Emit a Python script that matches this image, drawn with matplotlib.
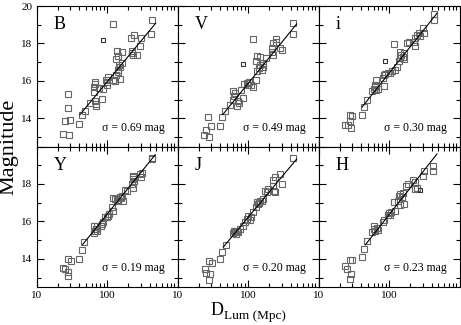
import matplotlib
matplotlib.use('Agg')
import matplotlib.pyplot as plt
from matplotlib.ticker import FixedLocator, MultipleLocator, LogLocator, NullFormatter

plt.rcParams['font.family'] = ['Liberation Serif', 'DejaVu Serif']

bands = ['B', 'V', 'i', 'Y', 'J', 'H']
sigmas = ['0.69', '0.49', '0.30', '0.19', '0.20', '0.23']

# Luminosity distance (Mpc) and magnitude for each band
B_D = [23.8, 28.7, 25.2, 29.7, 27.5, 27.8, 40.1, 43.5, 48.5, 57.0, 67.1, 69.3, 69.3, 65.0, 66, 67.1, 68,
       77.3, 83.6, 88.1, 96.2, 99.3, 103.7, 100, 119.6, 129, 133, 143.7, 148.6, 152, 160.6, 150, 140,
       133, 136, 140, 160.6, 119.6, 222, 229.7, 225, 217.6, 240, 267, 299, 292, 428, 418]
B_m = [13.19, 13.10, 13.85, 13.90, 14.54, 15.28, 13.69, 14.19, 14.41, 14.82, 14.91, 14.79, 14.64, 15.39, 15.67, 15.94, 15.85,
       15.62, 15.04, 15.57, 16.03, 15.80, 16.21, 15.95, 16.06, 15.97, 16.33, 16.60, 16.86, 16.77, 16.95, 16.12, 16.50,
       17.16, 17.62, 17.34, 17.57, 19.04, 17.48, 17.39, 17.62, 18.28, 18.46, 17.39, 18.28, 17.84, 19.26, 18.49]

V_D = [27.2, 29.4, 24.9, 23.9, 28.1, 40.2, 42.9, 47.3, 55.2, 60.2, 63, 65, 61, 68.6, 72.4, 74,
       78.2, 83.5, 88.2, 95.1, 103.6, 98, 109.6, 118.6, 128.9, 134.8, 142.4, 147, 155.6, 164.1, 160,
       128.9, 134.8, 147, 178.8, 118.6, 215.4, 220, 227, 227, 245, 282.5, 305, 250, 428, 428]
V_m = [14.06, 13.62, 13.37, 13.09, 13.02, 13.62, 14.08, 14.41, 14.73, 15.00, 15.18, 15.36, 15.44, 14.64, 14.91, 14.82,
       15.53, 15.09, 15.85, 15.89, 15.92, 15.80, 15.80, 15.67, 16.06, 16.51, 16.69, 16.86, 16.60, 16.77, 16.95,
       17.04, 17.34, 17.27, 17.22, 18.23, 17.52, 17.75, 18.01, 17.39, 18.23, 17.75, 17.66, 18.10, 19.11, 18.49]

i_D = [23.9, 25.8, 27.5, 29.7, 28.8, 27.5, 41.3, 43.5, 48.5, 57.2, 60.4, 63.8, 65.8, 68.8, 63.8, 65.8,
       81.9, 83.6, 88.2, 95.1, 101.6, 110, 122.6, 83.6, 129.3, 136.3, 144.3, 149, 157.4, 160.8, 141, 164.6,
       118.5, 179.5, 189.5, 222.6, 230, 235.5, 248.7, 262.7, 271.5, 302.5, 308.7, 428, 428]
i_m = [13.67, 13.67, 14.20, 14.11, 13.49, 13.85, 14.20, 14.61, 15.00, 15.44, 15.57, 15.67, 15.53, 15.57, 15.80, 16.06,
       16.15, 16.33, 16.38, 16.45, 16.42, 16.51, 16.60, 15.74, 16.77, 17.04, 17.22, 17.39, 17.30, 17.48, 17.57, 17.16,
       17.96, 18.01, 18.10, 18.10, 17.84, 18.28, 18.46, 18.58, 18.40, 18.81, 18.55, 19.57, 19.26]

Y_D = [23.8, 25.2, 27.5, 28.1, 28.1, 30.3, 40.1, 43.5, 46.9, 65, 67.1, 69.3, 70.9, 65.7, 72.5,
       80.9, 83.6, 86.6, 93.1, 99.3, 103.7, 107.1, 119.6, 115.7, 119.6, 129, 139.3, 143.7, 152, 155, 160.6, 166.2,
       178.6, 189.1, 222, 229.7, 234, 240, 229.7, 234, 292, 299, 307, 428, 438]
Y_m = [13.50, 13.45, 13.32, 13.09, 14.01, 13.88, 14.01, 14.49, 14.89, 15.37, 15.51, 15.60, 15.48, 15.78, 15.73,
       15.78, 15.87, 15.96, 16.22, 16.26, 16.31, 16.40, 16.58, 16.76, 17.25, 17.20, 17.16, 17.11, 17.29, 17.25, 17.38, 17.11,
       17.68, 17.64, 18.00, 18.27, 18.35, 18.18, 17.77, 18.44, 18.53, 18.35, 18.56, 19.38, 19.33]

J_D = [27.8, 30.3, 24.4, 25.2, 28.7, 27.8, 40.2, 42.9, 48.4, 61.5, 65, 67.3, 70.1, 63, 72.4, 76.4,
       83.5, 90, 95.1, 100.2, 106.2, 108.4, 118.6, 128.9, 134.8, 139.1, 147, 155.6, 164.1, 143.9,
       173, 182.6, 192.5, 222.3, 227, 240, 232.4, 240, 298, 282.5, 428]
J_m = [13.87, 13.78, 13.45, 13.27, 13.18, 12.86, 13.97, 14.36, 14.75, 15.37, 15.43, 15.34, 15.51, 15.51, 15.43, 15.60,
       15.78, 15.96, 16.14, 16.31, 16.05, 16.22, 16.49, 16.76, 17.02, 16.95, 17.11, 17.07, 17.20, 16.98,
       17.64, 17.55, 17.73, 17.91, 18.21, 18.39, 17.64, 17.55, 18.00, 18.53, 19.38]

H_D = [23.9, 25.3, 27.5, 29.7, 28.8, 27.5, 41.3, 43.5, 48.5, 57.2, 60.4, 63.8, 67.3, 68.8, 61.6,
       81.9, 85.7, 95.1, 98.4, 101.6, 106.3, 122.6, 118.5, 132.3, 136.3, 144.3, 152.2, 157.4, 160.8, 144.3,
       175.4, 183.5, 218, 235.5, 235.5, 248.7, 302.5, 316, 419, 419]
H_m = [13.60, 13.45, 13.95, 13.92, 13.21, 12.95, 14.10, 14.51, 14.98, 15.43, 15.60, 15.51, 15.66, 15.55, 15.73,
       15.96, 16.05, 16.35, 16.44, 16.37, 16.49, 16.58, 17.02, 17.11, 17.38, 17.47, 17.29, 17.50, 16.95, 16.88,
       17.91, 18.00, 18.21, 18.09, 17.73, 17.79, 18.44, 18.67, 18.97, 18.67]

# small dark points
small_D = {'B': [88.1], 'V': [85.0], 'i': [86.4], 'Y': [], 'J': [], 'H': [271.5]}
small_m = {'B': [18.17], 'V': [16.93], 'i': [17.07], 'Y': [], 'J': [], 'H': [17.68]}

# Fit line end points (D, mag)
line_D = {'B': [41, 487], 'V': [43.5, 487], 'i': [41.3, 476], 'Y': [44.9, 480], 'J': [44.3, 487], 'H': [45.9, 476]}
line_m = {'B': [14.2, 19.08], 'V': [14.2, 19.04], 'i': [14.61, 19.61], 'Y': [14.77, 19.56], 'J': [14.63, 19.33], 'H': [14.75, 19.6]}

data = {'B': (B_D, B_m), 'V': (V_D, V_m), 'i': (i_D, i_m), 'Y': (Y_D, Y_m), 'J': (J_D, J_m), 'H': (H_D, H_m)}

W, Hh = 461, 325
fig = plt.figure(figsize=(W / 100, Hh / 100), dpi=100)
gs = fig.add_gridspec(2, 3, left=36.7 / W, right=459.7 / W, top=1 - 6 / Hh, bottom=1 - 287 / Hh,
                      wspace=0, hspace=0)

for k, band in enumerate(bands):
    r, c = divmod(k, 3)
    ax = fig.add_subplot(gs[r, c])
    D, m = data[band]
    ax.plot(D, m, linestyle='none', marker='s', markersize=4.3, markerfacecolor='none',
            markeredgecolor='#666666', markeredgewidth=0.8)
    if small_D[band]:
        ax.plot(small_D[band], small_m[band], linestyle='none', marker='s', markersize=2.5,
                markerfacecolor='none', markeredgecolor='#333333', markeredgewidth=0.8)
    ax.plot(line_D[band], line_m[band], color='black', linewidth=0.8)
    ax.set_xscale('log')
    ax.set_xlim(10, 1000)
    ax.set_ylim(12.5, 20)
    ax.xaxis.set_major_locator(FixedLocator([10, 100, 1000]))
    ax.xaxis.set_minor_locator(LogLocator(base=10, subs=range(2, 10)))
    ax.xaxis.set_minor_formatter(NullFormatter())
    ax.yaxis.set_major_locator(FixedLocator([14, 16, 18, 20]))
    ax.yaxis.set_minor_locator(MultipleLocator(1))
    if r == 1:
        ax.set_xticklabels(['10', '100', ''])
    else:
        ax.tick_params(labelbottom=False)
    if c == 0:
        ax.set_yticklabels(['14', '16', '18', '20' if r == 0 else ''])
    else:
        ax.tick_params(labelleft=False)
    ax.tick_params(which='both', direction='in', top=True, right=True, width=0.8, labelsize=8, pad=3)
    ax.tick_params(which='major', length=5)
    ax.tick_params(which='minor', length=2.8)
    for s in ax.spines.values():
        s.set_linewidth(0.8)
    ax.text(0.12, 0.865, band, transform=ax.transAxes, fontsize=13, ha='left', va='center')
    ax.text(0.91, 0.133, '\u03c3 = %s mag' % sigmas[k], transform=ax.transAxes, fontsize=8.5,
            ha='right', va='center')

fig.text(8.7 / W, 1 - 146.5 / Hh, 'Magnitude', rotation=90, fontsize=16, ha='center', va='center')
fig.text(211 / W, 1 - 315.3 / Hh, 'D', fontsize=13, ha='left', va='baseline')
fig.text(224 / W, 1 - 318.5 / Hh, 'Lum (Mpc)', fontsize=9.5, ha='left', va='baseline')

fig.savefig('out.png', dpi=100)
